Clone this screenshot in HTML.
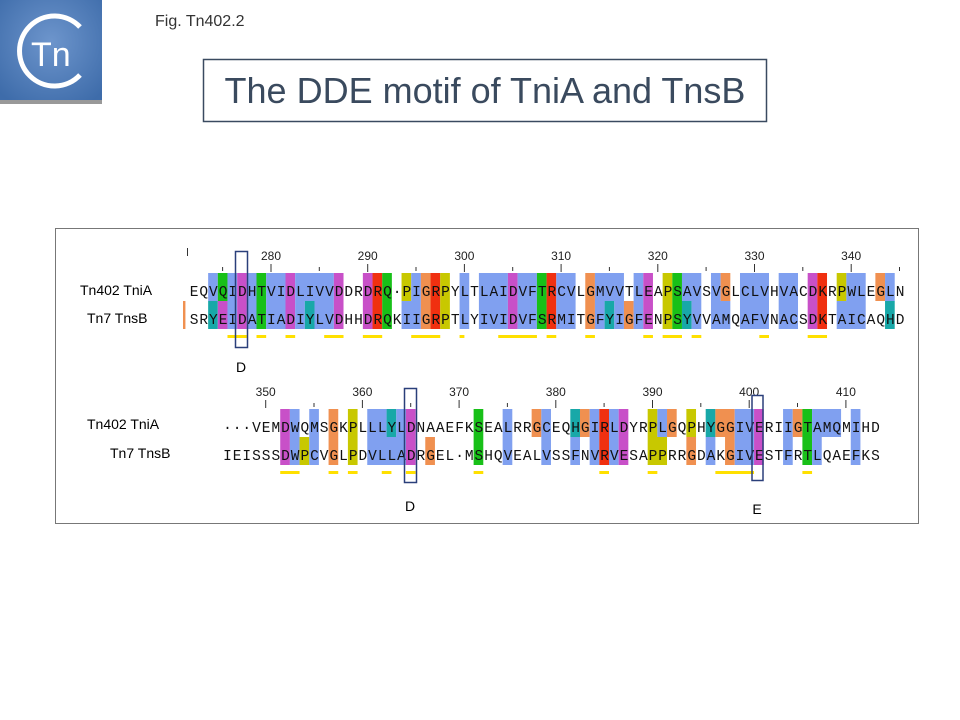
<!DOCTYPE html>
<html><head><meta charset="utf-8"><style>
html,body{margin:0;padding:0;background:#fff;}
svg{display:block;}
.B{fill:#80a0f0}.G{fill:#18c018}.M{fill:#c850c8}.R{fill:#f03010}.O{fill:#f09050}.Y{fill:#c8c800}.C{fill:#18a8a8}.Z{fill:#ffe000}
.seq{font-family:"Liberation Mono",monospace;font-size:14.5px;letter-spacing:0.97px;fill:#111}
.num{font-family:"Liberation Sans",sans-serif;font-size:12px;fill:#222;text-anchor:middle}
.lab{font-family:"Liberation Sans",sans-serif;font-size:14px;fill:#000}
</style></head><body>
<svg width="960" height="720" viewBox="0 0 960 720" xmlns="http://www.w3.org/2000/svg">
<defs><radialGradient id="lg" cx="50%" cy="40%" r="70%"><stop offset="0" stop-color="#6d95cc"/><stop offset="1" stop-color="#3e6caa"/></radialGradient></defs>
<rect x="0" y="0" width="102" height="104" fill="url(#lg)"/>
<rect x="0" y="100" width="102" height="4" fill="#999"/>
<path d="M80 27 A35 35 0 1 0 80 75" fill="none" stroke="#fff" stroke-width="5"/>
<text x="31" y="66" font-family="Liberation Sans,sans-serif" font-size="34" fill="#fff">Tn</text>
<text x="155" y="26" font-family="Liberation Sans,sans-serif" font-size="16" fill="#333">Fig. Tn402.2</text>
<rect x="203.5" y="59.5" width="563" height="62" fill="#fff" stroke="#3a4a60" stroke-width="1.5"/>
<text x="485" y="103" text-anchor="middle" font-family="Liberation Sans,sans-serif" font-size="36" fill="#3a4a5e">The DDE motif of TniA and TnsB</text>
<rect x="55.5" y="228.5" width="863" height="295" fill="#fff" stroke="#777" stroke-width="1"/>

<text class="lab" x="80" y="295">Tn402 TniA</text>
<text class="lab" x="87" y="323">Tn7 TnsB</text>
<text class="lab" x="87" y="429">Tn402 TniA</text>
<text class="lab" x="110" y="458">Tn7 TnsB</text>

<g transform="translate(188.8,273) scale(9.67,1)">
<rect x="-0.6" y="28" width="0.25" height="28" class="O"/>
<g>
<rect x="2" y="0" width="1" height="28" class="B"/><rect x="3" y="0" width="1" height="28" class="G"/><rect x="4" y="0" width="1" height="28" class="B"/><rect x="5" y="0" width="1" height="28" class="M"/><rect x="6" y="0" width="1" height="28" class="B"/><rect x="7" y="0" width="1" height="28" class="G"/><rect x="8" y="0" width="2" height="28" class="B"/><rect x="10" y="0" width="1" height="28" class="M"/><rect x="11" y="0" width="4" height="28" class="B"/><rect x="15" y="0" width="1" height="28" class="M"/><rect x="18" y="0" width="1" height="28" class="M"/><rect x="19" y="0" width="1" height="28" class="R"/><rect x="20" y="0" width="1" height="28" class="G"/><rect x="22" y="0" width="1" height="28" class="Y"/><rect x="23" y="0" width="1" height="28" class="B"/><rect x="24" y="0" width="1" height="28" class="O"/><rect x="25" y="0" width="1" height="28" class="R"/><rect x="26" y="0" width="1" height="28" class="Y"/><rect x="28" y="0" width="1" height="28" class="B"/><rect x="30" y="0" width="3" height="28" class="B"/><rect x="33" y="0" width="1" height="28" class="M"/><rect x="34" y="0" width="2" height="28" class="B"/><rect x="36" y="0" width="1" height="28" class="G"/><rect x="37" y="0" width="1" height="28" class="R"/><rect x="38" y="0" width="2" height="28" class="B"/><rect x="41" y="0" width="1" height="28" class="O"/><rect x="42" y="0" width="3" height="28" class="B"/><rect x="46" y="0" width="1" height="28" class="B"/><rect x="47" y="0" width="1" height="28" class="M"/><rect x="49" y="0" width="1" height="28" class="Y"/><rect x="50" y="0" width="1" height="28" class="G"/><rect x="51" y="0" width="2" height="28" class="B"/><rect x="54" y="0" width="1" height="28" class="B"/><rect x="55" y="0" width="1" height="28" class="O"/><rect x="57" y="0" width="3" height="28" class="B"/><rect x="61" y="0" width="2" height="28" class="B"/><rect x="64" y="0" width="1" height="28" class="M"/><rect x="65" y="0" width="1" height="28" class="R"/><rect x="67" y="0" width="1" height="28" class="Y"/><rect x="68" y="0" width="2" height="28" class="B"/><rect x="71" y="0" width="1" height="28" class="O"/><rect x="72" y="0" width="1" height="28" class="B"/>
</g>
<g transform="translate(0,28)">
<rect x="2" y="0" width="1" height="28" class="C"/><rect x="3" y="0" width="1" height="28" class="M"/><rect x="4" y="0" width="1" height="28" class="B"/><rect x="5" y="0" width="1" height="28" class="M"/><rect x="6" y="0" width="1" height="28" class="B"/><rect x="7" y="0" width="1" height="28" class="G"/><rect x="8" y="0" width="2" height="28" class="B"/><rect x="10" y="0" width="1" height="28" class="M"/><rect x="11" y="0" width="1" height="28" class="B"/><rect x="12" y="0" width="1" height="28" class="C"/><rect x="13" y="0" width="2" height="28" class="B"/><rect x="15" y="0" width="1" height="28" class="M"/><rect x="18" y="0" width="1" height="28" class="M"/><rect x="19" y="0" width="1" height="28" class="R"/><rect x="20" y="0" width="1" height="28" class="G"/><rect x="22" y="0" width="2" height="28" class="B"/><rect x="24" y="0" width="1" height="28" class="O"/><rect x="25" y="0" width="1" height="28" class="R"/><rect x="26" y="0" width="1" height="28" class="Y"/><rect x="28" y="0" width="1" height="28" class="B"/><rect x="30" y="0" width="3" height="28" class="B"/><rect x="33" y="0" width="1" height="28" class="M"/><rect x="34" y="0" width="2" height="28" class="B"/><rect x="36" y="0" width="1" height="28" class="G"/><rect x="37" y="0" width="1" height="28" class="R"/><rect x="38" y="0" width="2" height="28" class="B"/><rect x="41" y="0" width="1" height="28" class="O"/><rect x="42" y="0" width="1" height="28" class="B"/><rect x="43" y="0" width="1" height="28" class="C"/><rect x="44" y="0" width="1" height="28" class="B"/><rect x="45" y="0" width="1" height="28" class="O"/><rect x="46" y="0" width="1" height="28" class="B"/><rect x="47" y="0" width="1" height="28" class="M"/><rect x="49" y="0" width="1" height="28" class="Y"/><rect x="50" y="0" width="1" height="28" class="G"/><rect x="51" y="0" width="1" height="28" class="C"/><rect x="52" y="0" width="1" height="28" class="B"/><rect x="54" y="0" width="2" height="28" class="B"/><rect x="57" y="0" width="3" height="28" class="B"/><rect x="61" y="0" width="2" height="28" class="B"/><rect x="64" y="0" width="1" height="28" class="M"/><rect x="65" y="0" width="1" height="28" class="R"/><rect x="67" y="0" width="3" height="28" class="B"/><rect x="72" y="0" width="1" height="28" class="C"/>
</g>
<g class="Z">
<rect x="4" y="62" width="2" height="3"/><rect x="7" y="62" width="1" height="3"/><rect x="10" y="62" width="1" height="3"/><rect x="14" y="62" width="2" height="3"/><rect x="18" y="62" width="2" height="3"/><rect x="23" y="62" width="3" height="3"/><rect x="28" y="62" width="0.5" height="3"/><rect x="32" y="62" width="4" height="3"/><rect x="37" y="62" width="1" height="3"/><rect x="41" y="62" width="1" height="3"/><rect x="47" y="62" width="1" height="3"/><rect x="49" y="62" width="2" height="3"/><rect x="52" y="62" width="1" height="3"/><rect x="59" y="62" width="1" height="3"/><rect x="64" y="62" width="2" height="3"/>
</g>
</g>
<text class="seq" x="189.7" y="296">EQVQIDHTVIDLIVVDDRDRQ·PIGRPYLTLAIDVFTRCVLGMVVTLEAPSAVSVGLCLVHVACDKRPWLEGLN</text>
<text class="seq" x="189.7" y="324">SRYEIDATIADIYLVDHHDRQKIIGRPTLYIVIDVFSRMITGFYIGFENPSYVVAMQAFVNACSDKTAICAQHD</text>
<g stroke="#333" stroke-width="1">
<line x1="187.5" y1="248" x2="187.5" y2="256"/>
<line x1="271" y1="264" x2="271" y2="272"/><line x1="367.7" y1="264" x2="367.7" y2="272"/><line x1="464.4" y1="264" x2="464.4" y2="272"/><line x1="561.1" y1="264" x2="561.1" y2="272"/><line x1="657.8" y1="264" x2="657.8" y2="272"/><line x1="754.5" y1="264" x2="754.5" y2="272"/><line x1="851.2" y1="264" x2="851.2" y2="272"/>
<line x1="222.6" y1="267" x2="222.6" y2="271"/><line x1="319.3" y1="267" x2="319.3" y2="271"/><line x1="416" y1="267" x2="416" y2="271"/><line x1="512.7" y1="267" x2="512.7" y2="271"/><line x1="609.4" y1="267" x2="609.4" y2="271"/><line x1="706.1" y1="267" x2="706.1" y2="271"/><line x1="802.8" y1="267" x2="802.8" y2="271"/><line x1="899.5" y1="267" x2="899.5" y2="271"/>
</g>
<text class="num" x="271" y="260">280</text><text class="num" x="367.7" y="260">290</text><text class="num" x="464.4" y="260">300</text><text class="num" x="561.1" y="260">310</text><text class="num" x="657.8" y="260">320</text><text class="num" x="754.5" y="260">330</text><text class="num" x="851.2" y="260">340</text>
<rect x="235.5" y="251.5" width="12" height="96" fill="none" stroke="#2a3f7a" stroke-width="1.5"/>
<text class="lab" x="241" y="372" text-anchor="middle" font-size="15">D</text>

<g transform="translate(222.2,409) scale(9.67,1)">
<g>
<rect x="6" y="0" width="1" height="28" class="M"/><rect x="7" y="0" width="1" height="28" class="B"/><rect x="9" y="0" width="1" height="28" class="B"/><rect x="11" y="0" width="1" height="28" class="O"/><rect x="13" y="0" width="1" height="28" class="Y"/><rect x="15" y="0" width="2" height="28" class="B"/><rect x="17" y="0" width="1" height="28" class="C"/><rect x="18" y="0" width="1" height="28" class="B"/><rect x="19" y="0" width="1" height="28" class="M"/><rect x="26" y="0" width="1" height="28" class="G"/><rect x="29" y="0" width="1" height="28" class="B"/><rect x="32" y="0" width="1" height="28" class="O"/><rect x="33" y="0" width="1" height="28" class="B"/><rect x="36" y="0" width="1" height="28" class="C"/><rect x="37" y="0" width="1" height="28" class="O"/><rect x="38" y="0" width="1" height="28" class="B"/><rect x="39" y="0" width="1" height="28" class="R"/><rect x="40" y="0" width="1" height="28" class="B"/><rect x="41" y="0" width="1" height="28" class="M"/><rect x="44" y="0" width="1" height="28" class="Y"/><rect x="45" y="0" width="1" height="28" class="B"/><rect x="46" y="0" width="1" height="28" class="O"/><rect x="48" y="0" width="1" height="28" class="Y"/><rect x="50" y="0" width="1" height="28" class="C"/><rect x="51" y="0" width="2" height="28" class="O"/><rect x="53" y="0" width="2" height="28" class="B"/><rect x="55" y="0" width="1" height="28" class="M"/><rect x="58" y="0" width="1" height="28" class="B"/><rect x="59" y="0" width="1" height="28" class="O"/><rect x="60" y="0" width="1" height="28" class="G"/><rect x="61" y="0" width="3" height="28" class="B"/><rect x="65" y="0" width="1" height="28" class="B"/>
</g>
<g transform="translate(0,28)">
<rect x="6" y="0" width="1" height="28" class="M"/><rect x="7" y="0" width="1" height="28" class="B"/><rect x="8" y="0" width="1" height="28" class="Y"/><rect x="9" y="0" width="1" height="28" class="B"/><rect x="11" y="0" width="1" height="28" class="O"/><rect x="13" y="0" width="1" height="28" class="Y"/><rect x="15" y="0" width="4" height="28" class="B"/><rect x="19" y="0" width="1" height="28" class="M"/><rect x="21" y="0" width="1" height="28" class="O"/><rect x="26" y="0" width="1" height="28" class="G"/><rect x="29" y="0" width="1" height="28" class="B"/><rect x="33" y="0" width="1" height="28" class="B"/><rect x="36" y="0" width="1" height="28" class="B"/><rect x="38" y="0" width="1" height="28" class="B"/><rect x="39" y="0" width="1" height="28" class="R"/><rect x="40" y="0" width="1" height="28" class="B"/><rect x="41" y="0" width="1" height="28" class="M"/><rect x="44" y="0" width="2" height="28" class="Y"/><rect x="48" y="0" width="1" height="28" class="O"/><rect x="50" y="0" width="1" height="28" class="B"/><rect x="52" y="0" width="1" height="28" class="O"/><rect x="53" y="0" width="2" height="28" class="B"/><rect x="55" y="0" width="1" height="28" class="M"/><rect x="58" y="0" width="1" height="28" class="B"/><rect x="60" y="0" width="1" height="28" class="G"/><rect x="61" y="0" width="1" height="28" class="B"/><rect x="65" y="0" width="1" height="28" class="B"/>
</g>
<g class="Z">
<rect x="6" y="62" width="2" height="3"/><rect x="11" y="62" width="1" height="3"/><rect x="13" y="62" width="1" height="3"/><rect x="16.5" y="62" width="1" height="3"/><rect x="19" y="62" width="1" height="3"/><rect x="26" y="62" width="1" height="3"/><rect x="39" y="62" width="1" height="3"/><rect x="44" y="62" width="1" height="3"/><rect x="51" y="62" width="4" height="3"/><rect x="60" y="62" width="1" height="3"/>
</g>
</g>
<text class="seq" x="223.1" y="432">···VEMDWQMSGKPLLLYLDNAAEFKSEALRRGCEQHGIRLDYRPLGQPHYGGIVERIIGTAMQMIHD</text>
<text class="seq" x="223.1" y="460">IEISSSDWPCVGLPDVLLADRGEL·MSHQVEALVSSFNVRVESAPPRRGDAKGIVESTFRTLQAEFKS</text>
<g stroke="#333" stroke-width="1">
<line x1="265.7" y1="400" x2="265.7" y2="408"/><line x1="362.4" y1="400" x2="362.4" y2="408"/><line x1="459.1" y1="400" x2="459.1" y2="408"/><line x1="555.8" y1="400" x2="555.8" y2="408"/><line x1="652.5" y1="400" x2="652.5" y2="408"/><line x1="749.2" y1="400" x2="749.2" y2="408"/><line x1="845.9" y1="400" x2="845.9" y2="408"/>
<line x1="314" y1="403" x2="314" y2="407"/><line x1="410.7" y1="403" x2="410.7" y2="407"/><line x1="507.4" y1="403" x2="507.4" y2="407"/><line x1="604.1" y1="403" x2="604.1" y2="407"/><line x1="700.8" y1="403" x2="700.8" y2="407"/><line x1="797.5" y1="403" x2="797.5" y2="407"/>
</g>
<text class="num" x="265.7" y="396">350</text><text class="num" x="362.4" y="396">360</text><text class="num" x="459.1" y="396">370</text><text class="num" x="555.8" y="396">380</text><text class="num" x="652.5" y="396">390</text><text class="num" x="749.2" y="396">400</text><text class="num" x="845.9" y="396">410</text>
<rect x="404.5" y="388.5" width="12" height="94" fill="none" stroke="#2a3f7a" stroke-width="1.5"/>
<rect x="752" y="395.5" width="11" height="85" fill="none" stroke="#2a3f7a" stroke-width="1.5"/>
<text class="lab" x="410" y="511" text-anchor="middle" font-size="15">D</text>
<text class="lab" x="757" y="514" text-anchor="middle" font-size="15">E</text>
</svg>
</body></html>
